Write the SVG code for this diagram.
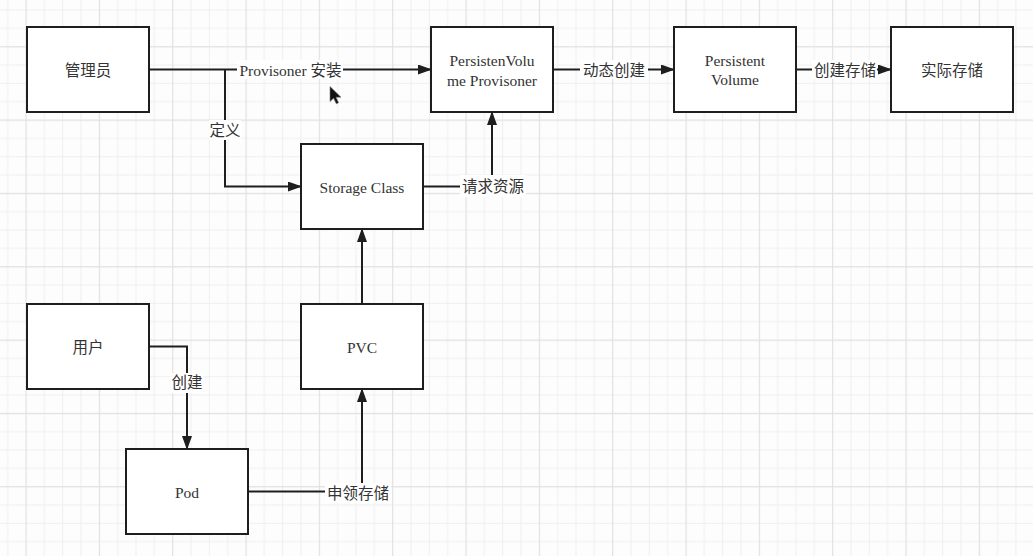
<svg xmlns="http://www.w3.org/2000/svg" width="1033" height="556" viewBox="0 0 1033 556">
  <style>
    .node rect { fill: #ffffff; stroke: #1e1e1e; stroke-width: 2; }
    text { font-family: "Liberation Serif", "Noto Sans CJK SC", serif; font-size: 15.5px; fill: #333333; text-anchor: middle; dominant-baseline: central; }
    .conn path { fill: none; stroke: #1e1e1e; stroke-width: 2; }
    .lbl { fill: #ffffff; stroke: none; }
  </style>
  <defs>
    <pattern id="grid" x="25.5" y="46.2" width="73.33" height="73.33" patternUnits="userSpaceOnUse">
      <path d="M18.83 0V73.33M37.17 0V73.33M55.5 0V73.33M0 18.83H73.33M0 37.17H73.33M0 55.5H73.33" stroke="#efefef" stroke-width="1" fill="none"/>
      <path d="M0.5 0V73.33M0 0.5H73.33" stroke="#e0e0e0" stroke-width="1.3" fill="none"/>
    </pattern>
    <marker id="arr" markerUnits="userSpaceOnUse" markerWidth="14" markerHeight="10" refX="13" refY="5" orient="auto">
      <path d="M0 0L14 5L0 10Z" fill="#1e1e1e"/>
    </marker>
  </defs>
  <rect width="1033" height="556" fill="#fdfdfd"/>
  <rect width="1033" height="556" fill="url(#grid)"/>

  <g id="connectors" class="conn">
    <path d="M149 69.5H431" marker-end="url(#arr)"/>
    <path d="M225 69.5V186.5H301" marker-end="url(#arr)"/>
    <path d="M423 186.5H492V112" marker-end="url(#arr)"/>
    <path d="M553 69.5H674" marker-end="url(#arr)"/>
    <path d="M796 69.5H891" marker-end="url(#arr)"/>
    <path d="M149 346.5H187V449" marker-end="url(#arr)"/>
    <path d="M248 491.5H362V389" marker-end="url(#arr)"/>
    <path d="M362 304V229" marker-end="url(#arr)"/>

    <rect class="lbl" x="237" y="60" width="106" height="19"/>
    <text x="290.5" y="70">Provisoner 安装</text>
    <rect class="lbl" x="209" y="120" width="32" height="20"/>
    <text x="225" y="130">定义</text>
    <rect class="lbl" x="460" y="175" width="66" height="22"/>
    <text x="493" y="186.5">请求资源</text>
    <rect class="lbl" x="580" y="60" width="68" height="19"/>
    <text x="614" y="70">动态创建</text>
    <rect class="lbl" x="812" y="60" width="65" height="19"/>
    <text x="845" y="70">创建存储</text>
    <rect class="lbl" x="171" y="373" width="32" height="20"/>
    <text x="187" y="382">创建</text>
    <rect class="lbl" x="325" y="483" width="66" height="20"/>
    <text x="358" y="493">申领存储</text>
  </g>

  <g id="admin" class="node">
    <rect x="27" y="27" width="122" height="85"/>
    <text x="88" y="70">管理员</text>
  </g>
  <g id="pv-provisioner" class="node">
    <rect x="431" y="27" width="122" height="85"/>
    <text x="492" y="60">PersistenVolu</text>
    <text x="492" y="80">me Provisoner</text>
  </g>
  <g id="persistent-volume" class="node">
    <rect x="674" y="27" width="122" height="85"/>
    <text x="735" y="60">Persistent</text>
    <text x="735" y="79.5">Volume</text>
  </g>
  <g id="real-storage" class="node">
    <rect x="891" y="27" width="122" height="85"/>
    <text x="952" y="70">实际存储</text>
  </g>
  <g id="storage-class" class="node">
    <rect x="301" y="144" width="122" height="85"/>
    <text x="362" y="187">Storage Class</text>
  </g>
  <g id="user" class="node">
    <rect x="27" y="304" width="122" height="85"/>
    <text x="88" y="347">用户</text>
  </g>
  <g id="pvc" class="node">
    <rect x="301" y="304" width="122" height="85"/>
    <text x="362" y="347">PVC</text>
  </g>
  <g id="pod" class="node">
    <rect x="126" y="449" width="122" height="85"/>
    <text x="187" y="492">Pod</text>
  </g>

  <path d="M330 86.5L330 101.5L333.6 98.2L336.3 103.8L338.6 102.7L336 97.2L341 97.2Z" fill="#111111" stroke="#777" stroke-width="0.6"/>
</svg>
